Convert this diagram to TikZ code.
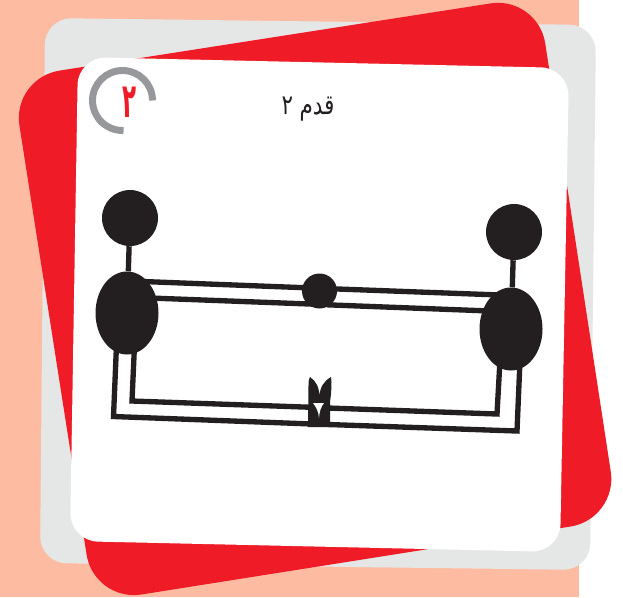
\documentclass[tikz,border=0pt]{standalone}
\usepackage{fontspec}
\newfontfamily\arabicfont[Script=Arabic]{DejaVu Sans}
\TeXXeTstate=1
\definecolor{salmon}{HTML}{FDBCA2}
\definecolor{cardgray}{HTML}{E5E7E7}
\definecolor{cardred}{HTML}{EF1C27}
\definecolor{ringgray}{HTML}{97989C}
\definecolor{ink}{HTML}{231F20}
\usetikzlibrary{shapes.geometric}
\tikzset{
  px/.style={x=0.75pt,y=-0.75pt},
  atom/.style={circle,fill=ink,inner sep=0pt,minimum size=#1*0.75pt},
  lobe/.style={ellipse,fill=ink,inner sep=0pt,minimum width=63*0.75pt,minimum height=83*0.75pt},
  bond/.style={draw=ink,line width=4pt,line join=miter},
}
\begin{document}
\begin{tikzpicture}[px]
\useasboundingbox (0,0) rectangle (623,597);
\fill[white] (0,0) rectangle (623,597);
\fill[salmon] (0,0) rectangle (579,597);
\fill[cardgray,rounded corners=20pt] (45,18) -- (596,25) -- (590,570) -- (40,563) -- cycle;
\fill[cardred,rounded corners=36pt] (12,78) -- (538,-4) -- (618,519) -- (94,602) -- cycle;
\fill[white,rounded corners=21pt] (78,57) -- (569,68) -- (560,552) -- (70,541) -- cycle;
% step badge
\draw[ringgray,line width=5.2pt] (152.5,100.5) arc[start angle=0,end angle=-272,radius=30];
\node[text=cardred,font=\arabicfont\bfseries\fontsize{36}{36}\selectfont,inner sep=0pt,xscale=.48,yscale=1.0] (digit) at (130,102) {\beginR ۲\endR};
\node[text=ink,font=\arabicfont\fontsize{16}{20}\selectfont,inner sep=0pt,rotate=-1,yscale=1.3] (title) at (308,109) {\beginR قدم ۲\endR};
% atoms
\node[atom=56] (topL) at (130,218) {};
\node[atom=56] (topR) at (514,232) {};
\node[lobe] (lobeL) at (127,313) {};
\node[lobe] (lobeR) at (511,329) {};
\node[atom=35] (mid) at (319.5,291) {};
% valve
\coordinate (valveLo) at (312,424);
\coordinate (valveLi) at (312,407.3);
\coordinate (valveRo) at (328,424.5);
\coordinate (valveRi) at (328,408);
\fill[ink] (308,427) -- (308.5,385) .. controls (308.5,381) and (309,378) .. (310,377)
  .. controls (316,381) and (319,387) .. (319.5,396)
  .. controls (320,387) and (324,381) .. (331,377)
  .. controls (332,385) and (331,395) .. (330,402)
  -- (330,427) -- cycle;
\fill[white] (313,403) -- (324,403) .. controls (321,407) and (319.5,411) .. (319,418) .. controls (318.5,411) and (316,407) .. (313,403) -- cycle;
% bonds
\draw[bond] (topL) -- (lobeL);
\draw[bond] (topR) -- (lobeR);
\coordinate (lu) at (130,281); \coordinate (ll) at (150,298);
\coordinate (ru) at (500,295); \coordinate (rl) at (490,311);
\coordinate (mlu) at (312,288); \coordinate (mru) at (327,288.6);
\coordinate (mll) at (312,304.1); \coordinate (mrl) at (327,304.8);
\draw[bond] (lu) -- (mlu);
\draw[bond] (ll) -- (mll);
\draw[bond] (mru) -- (ru);
\draw[bond] (mrl) -- (rl);
\coordinate (lo) at (116.5,345); \coordinate (loc) at (113.5,416.5);
\coordinate (li) at (134.5,345); \coordinate (lic) at (132,401);
\coordinate (ro) at (520,360); \coordinate (roc) at (517,431);
\coordinate (ri) at (500,360); \coordinate (ric) at (497,414);
\draw[bond] (lo) -- (loc) -- (valveLo);
\draw[bond] (li) -- (lic) -- (valveLi);
\draw[bond] (ro) -- (roc) -- (valveRo);
\draw[bond] (ri) -- (ric) -- (valveRi);
\end{tikzpicture}
\end{document}
